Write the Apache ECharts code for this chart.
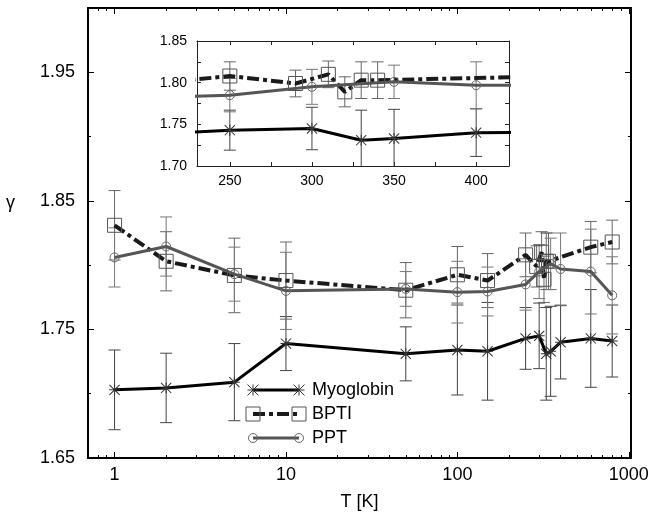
<!DOCTYPE html>
<html><head><meta charset="utf-8">
<script src="https://cdn.jsdelivr.net/npm/echarts@6/dist/echarts.min.js"></script>
<style>html,body{margin:0;padding:0;background:#fff}#c{width:653px;height:512px}</style>
</head><body><div id="c"></div>
<script>
// ---- data ----
const seriesNames = ['Myoglobin', 'BPTI', 'PPT'];

const myoT = [1, 2, 5, 10, 50, 100, 150, 250, 300, 330, 350, 400, 600, 800];
const myoG = [1.703, 1.7045, 1.709, 1.739, 1.731, 1.734, 1.733, 1.743, 1.745, 1.731, 1.733, 1.740, 1.743, 1.741];
const myoE = [0.031, 0.027, 0.030, 0.021, 0.021, 0.035, 0.038, 0.024, 0.0255, 0.036, 0.035, 0.0285, 0.038, 0.028];

const bptiT = [1, 2, 5, 10, 50, 100, 150, 250, 290, 310, 320, 330, 340, 600, 800];
const bptiG = [1.831, 1.803, 1.792, 1.788, 1.7805, 1.7925, 1.788, 1.808, 1.799, 1.810, 1.789, 1.803, 1.803, 1.814, 1.818];
const bptiE = [0.027, 0.023, 0.029, 0.030, 0.0215, 0.022, 0.021, 0.017, 0.016, 0.016, 0.018, 0.022, 0.022, 0.020, 0.017];

const pptT = [1, 2, 5, 10, 50, 100, 150, 250, 300, 350, 400, 600, 800];
const pptG = [1.806, 1.8145, 1.793, 1.780, 1.7815, 1.779, 1.7795, 1.785, 1.795, 1.801, 1.797, 1.795, 1.7765];
const pptE = [0.023, 0.023, 0.021, 0.030, 0.0135, 0.024, 0.019, 0.020, 0.021, 0.020, 0.028, 0.033, 0.030];

// tick values
const xMajorTicks = [1, 10, 100, 1000];
const xMinorTicks = [0.8, 0.9, 2, 3, 4, 5, 6, 7, 8, 9, 20, 30, 40, 50, 60, 70, 80, 90, 200, 300, 400, 500, 600, 700, 800, 900];
const yMajorTicks = [1.65, 1.75, 1.85, 1.95];
const yMinorTicks = [1.70, 1.80, 1.90];
const insetXLabels = [250, 300, 350, 400];
const insetXTicks = [250, 275, 300, 325, 350, 375, 400];
const insetYLabels = [1.70, 1.75, 1.80, 1.85];
const insetYTicks = [1.70, 1.725, 1.75, 1.775, 1.80, 1.825, 1.85];

// ---- chart ----
const FONT = '"Liberation Sans", Arial, Helvetica, sans-serif';
const chart = echarts.init(document.getElementById('c'), null, {renderer: 'canvas'});

const asteriskPath = 'path://M4.55,0H5.45V10H4.55Z M0,4.55H10V5.45H0Z M0.7,0.05L9.95,9.3L9.3,9.95L0.05,0.7Z M9.3,0.05L9.95,0.7L0.7,9.95L0.05,9.3Z';

const styles = {
  Myoglobin: {line: {color: '#000', width: 3, type: 'solid'}, symbol: asteriskPath, size: 11,
              item: {color: '#333', borderWidth: 0}, err: '#444'},
  BPTI: {line: {color: '#1a1a1a', width: 4, type: [12, 4, 4, 4]}, symbol: 'rect', size: 14,
         item: {color: 'rgba(255,255,255,0)', borderColor: '#555', borderWidth: 1}, err: '#666'},
  PPT: {line: {color: '#555', width: 3, type: 'solid'}, symbol: 'circle', size: 9,
        item: {color: 'rgba(255,255,255,0)', borderColor: '#666', borderWidth: 1}, err: '#777'}
};
const sets = {
  Myoglobin: [myoT, myoG, myoE],
  BPTI: [bptiT, bptiG, bptiE],
  PPT: [pptT, pptG, pptE]
};

function errRender(halfCap, color) {
  return function (params, api) {
    const x = api.value(0), lo = api.value(1), hi = api.value(2);
    const p1 = api.coord([x, lo]);
    const p2 = api.coord([x, hi]);
    const st = {stroke: color, lineWidth: 1, fill: null};
    return {type: 'group', children: [
      {type: 'line', shape: {x1: p1[0], y1: p1[1], x2: p2[0], y2: p2[1]}, style: st},
      {type: 'line', shape: {x1: p1[0] - halfCap, y1: p1[1], x2: p1[0] + halfCap, y2: p1[1]}, style: st},
      {type: 'line', shape: {x1: p2[0] - halfCap, y1: p2[1], x2: p2[0] + halfCap, y2: p2[1]}, style: st}
    ]};
  };
}

const series = [];
function addSeries(xi, yi) {
  seriesNames.forEach(function (n) {
    const [T, G, E] = sets[n];
    series.push({
      type: 'custom', name: n + ' err', xAxisIndex: xi, yAxisIndex: yi, clip: true, z: 1,
      renderItem: errRender(6, styles[n].err),
      encode: {x: 0, y: [1, 2]},
      data: T.map((t, i) => [t, G[i] - E[i], G[i] + E[i]]),
      silent: true
    });
  });
  seriesNames.forEach(function (n) {
    const [T, G] = sets[n];
    const s = styles[n];
    series.push({
      type: 'line', name: n, xAxisIndex: xi, yAxisIndex: yi, clip: true, z: 2,
      data: T.map((t, i) => [t, G[i]]),
      symbol: s.symbol, symbolSize: s.size, showSymbol: true,
      lineStyle: s.line, itemStyle: s.item, color: s.line.color,
      emphasis: {disabled: true}
    });
  });
}
addSeries(0, 0);
addSeries(4, 4);

const tickStyle = {color: '#000', width: 1};
const noSplit = {show: false};
function xAx(o) {
  return Object.assign({splitLine: noSplit, axisPointer: {show: false}}, o);
}

const xAxis = [
  xAx({type: 'log', gridIndex: 0, min: 0.7, max: 1030, position: 'bottom',
    axisLine: {show: true, lineStyle: {color: '#000', width: 2}},
    axisTick: {show: true, inside: true, length: 6, customValues: xMajorTicks, lineStyle: tickStyle},
    axisLabel: {show: true, customValues: xMajorTicks, fontSize: 18, color: '#000', fontFamily: FONT, margin: 8,
      formatter: v => String(Math.round(v))},
    name: 'T [K]', nameLocation: 'middle', nameGap: 35,
    nameTextStyle: {fontSize: 18, color: '#000', fontFamily: FONT}}),
  xAx({type: 'log', gridIndex: 0, min: 0.7, max: 1030, position: 'bottom',
    axisLine: {show: false},
    axisTick: {show: true, inside: true, length: 3, customValues: xMinorTicks, lineStyle: tickStyle},
    axisLabel: {show: false}}),
  xAx({type: 'log', gridIndex: 0, min: 0.7, max: 1030, position: 'top',
    axisLine: {show: true, lineStyle: {color: '#000', width: 2}},
    axisTick: {show: true, inside: true, length: 6, customValues: xMajorTicks, lineStyle: tickStyle},
    axisLabel: {show: false}}),
  xAx({type: 'log', gridIndex: 0, min: 0.7, max: 1030, position: 'top',
    axisLine: {show: false},
    axisTick: {show: true, inside: true, length: 3, customValues: xMinorTicks, lineStyle: tickStyle},
    axisLabel: {show: false}}),
  xAx({type: 'value', gridIndex: 1, min: 230, max: 420, position: 'bottom',
    axisLine: {show: true, lineStyle: {color: '#222', width: 1}},
    axisTick: {show: true, inside: true, length: 4, customValues: insetXTicks, lineStyle: {color: '#222', width: 1}},
    axisLabel: {show: true, customValues: insetXLabels, fontSize: 14, color: '#000', fontFamily: FONT, margin: 8}}),
  xAx({type: 'value', gridIndex: 1, min: 230, max: 420, position: 'top',
    axisLine: {show: true, lineStyle: {color: '#222', width: 1}},
    axisTick: {show: true, inside: true, length: 4, customValues: insetXTicks, lineStyle: {color: '#222', width: 1}},
    axisLabel: {show: false}})
];

const yAxis = [
  xAx({type: 'value', gridIndex: 0, min: 1.65, max: 2.0, position: 'left',
    axisLine: {show: true, lineStyle: {color: '#000', width: 2}},
    axisTick: {show: true, inside: true, length: 6, customValues: yMajorTicks, lineStyle: tickStyle},
    axisLabel: {show: true, customValues: yMajorTicks, fontSize: 18, color: '#000', fontFamily: FONT, margin: 13,
      formatter: v => v.toFixed(2)}}),
  xAx({type: 'value', gridIndex: 0, min: 1.65, max: 2.0, position: 'left',
    axisLine: {show: false},
    axisTick: {show: true, inside: true, length: 3, customValues: yMinorTicks, lineStyle: tickStyle},
    axisLabel: {show: false}}),
  xAx({type: 'value', gridIndex: 0, min: 1.65, max: 2.0, position: 'right',
    axisLine: {show: true, lineStyle: {color: '#000', width: 2}},
    axisTick: {show: true, inside: true, length: 6, customValues: yMajorTicks, lineStyle: tickStyle},
    axisLabel: {show: false}}),
  xAx({type: 'value', gridIndex: 0, min: 1.65, max: 2.0, position: 'right',
    axisLine: {show: false},
    axisTick: {show: true, inside: true, length: 3, customValues: yMinorTicks, lineStyle: tickStyle},
    axisLabel: {show: false}}),
  xAx({type: 'value', gridIndex: 1, min: 1.70, max: 1.85, position: 'left',
    axisLine: {show: true, lineStyle: {color: '#222', width: 1}},
    axisTick: {show: true, inside: true, length: 4, customValues: insetYTicks, lineStyle: {color: '#222', width: 1}},
    axisLabel: {show: true, customValues: insetYLabels, fontSize: 14, color: '#000', fontFamily: FONT, margin: 10,
      formatter: v => v.toFixed(2)}}),
  xAx({type: 'value', gridIndex: 1, min: 1.70, max: 1.85, position: 'right',
    axisLine: {show: true, lineStyle: {color: '#222', width: 1}},
    axisTick: {show: true, inside: true, length: 4, customValues: insetYTicks, lineStyle: {color: '#222', width: 1}},
    axisLabel: {show: false}})
];

// legend layout (ECharts legend for the text; sample lines with symbols at both ends drawn as graphics)
const LEG_LEFT = 253, LEG_TOP = 381, LEG_W = 46, LEG_ROW = 24;
const legendGraphics = [];
seriesNames.forEach(function (n, i) {
  const s = styles[n];
  const y = LEG_TOP + 9 + i * LEG_ROW;
  const x1 = LEG_LEFT, x2 = LEG_LEFT + LEG_W;
  legendGraphics.push({type: 'line', shape: {x1: x1, y1: y, x2: x2, y2: y}, z: 100,
    style: {stroke: s.line.color, lineWidth: s.line.width,
      lineDash: Array.isArray(s.line.type) ? s.line.type : null}});
  [x1, x2].forEach(function (cx) {
    const h = s.size / 2;
    if (n === 'Myoglobin') {
      const st = {stroke: s.item.color, lineWidth: 1};
      legendGraphics.push({type: 'line', z: 101, shape: {x1: cx - h, y1: y, x2: cx + h, y2: y}, style: st});
      legendGraphics.push({type: 'line', z: 101, shape: {x1: cx, y1: y - h, x2: cx, y2: y + h}, style: st});
      legendGraphics.push({type: 'line', z: 101, shape: {x1: cx - h, y1: y - h, x2: cx + h, y2: y + h}, style: st});
      legendGraphics.push({type: 'line', z: 101, shape: {x1: cx - h, y1: y + h, x2: cx + h, y2: y - h}, style: st});
    } else if (n === 'BPTI') {
      legendGraphics.push({type: 'rect', z: 101, shape: {x: cx - h, y: y - h, width: s.size, height: s.size},
        style: {fill: 'rgba(255,255,255,0)', stroke: s.item.borderColor, lineWidth: 1}});
    } else {
      legendGraphics.push({type: 'circle', z: 101, shape: {cx: cx, cy: y, r: h},
        style: {fill: 'rgba(255,255,255,0)', stroke: s.item.borderColor, lineWidth: 1}});
    }
  });
});

chart.setOption({
  animation: false,
  backgroundColor: '#fff',
  textStyle: {fontFamily: FONT},
  grid: [
    {left: 88, right: 22, top: 8, bottom: 54, containLabel: false, outerBoundsMode: 'none'},
    {left: 197, top: 41, width: 312, height: 125, containLabel: false, outerBoundsMode: 'none'}
  ],
  xAxis: xAxis,
  yAxis: yAxis,
  legend: {
    data: seriesNames.map(n => ({name: n, icon: 'none'})), orient: 'vertical', left: LEG_LEFT, top: LEG_TOP,
    padding: 0, itemWidth: LEG_W, itemHeight: 14, itemGap: 6,
    textStyle: {fontSize: 18, color: '#000', fontFamily: FONT, padding: [0, 0, 0, 8]},
    selectedMode: false
  },
  graphic: [{type: 'text', left: 6, top: 194, style: {text: 'γ', fontSize: 18, fill: '#000', fontFamily: FONT}}]
    .concat(legendGraphics),
  series: series
});
</script></body></html>
